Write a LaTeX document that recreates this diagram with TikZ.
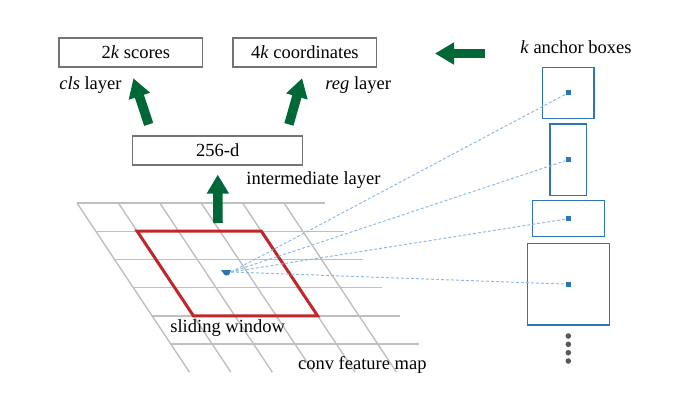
\documentclass[tikz,border=0pt]{standalone}
\usepackage{fontspec}
\setmainfont{Liberation Serif}
\newfontfamily\figfont{Liberation Serif}
\usetikzlibrary{arrows.meta}
\definecolor{arrowgreen}{RGB}{0,104,55}
\definecolor{winred}{RGB}{192,39,45}
\definecolor{boxblue}{RGB}{46,117,182}
\definecolor{dashblue}{RGB}{145,186,228}
\definecolor{gridgray}{RGB}{191,191,191}

\begin{document}
\begin{tikzpicture}[x=0.5pt,y=0.5pt,font=\figfont\fontsize{9.25}{11}\selectfont]
    \tikzstyle{rec} = [rectangle,draw=black!55,line width=0.6pt,inner sep=0pt,minimum height=14.5pt]
    \tikzstyle{lbl} = [inner sep=0pt,anchor=base west]
    \tikzstyle{fat} = [draw=arrowgreen,line width=4.75pt,-{Triangle[length=9.5pt,width=10.5pt]}]
    \tikzstyle{anc} = [rectangle,draw=boxblue,line width=0.75pt,inner sep=0pt]
    \tikzstyle{ctr} = [rectangle,fill=boxblue,inner sep=0pt,minimum size=2.5pt]
    \tikzstyle{lnk} = [dash pattern=on 1.5pt off 1pt,draw=dashblue,line width=0.5pt]
    \useasboundingbox (0,0) rectangle (678,418);
    % feature map grid
    \foreach \j in {0,...,5}
        \draw[gridgray,line width=0.7pt] (77+18.75*\j,215-28.2*\j) -- ++(248.4,0);
    \foreach \i in {0,...,5}
        \draw[gridgray,line width=0.7pt] (77+41.4*\i,215) -- ++(112.5,-169.2);
    \draw[winred,line width=1.5pt] (137.15,186.8) -- (261.35,186.8) -- (317.6,102.2) -- (193.4,102.2) -- cycle;
    \node [lbl] (sw) at (170,85.3) {sliding window};
    \node [lbl] (fm) at (297.7,48.7) {conv feature map};
    % layers
    \node [rec, minimum width=71.85pt] (cls) at (130.85,365.5) {\hspace{5pt}2\textit{k} scores};
    \node [rec, minimum width=71.85pt] (reg) at (304.85,365.5) {4\textit{k} coordinates};
    \node [rec, minimum width=85pt] (mid) at (217.7,267.5) {256-d};
    \node [lbl] (clsl) at (59,328) {\textit{cls} layer};
    \node [lbl] (regl) at (325,328) {\textit{reg} layer};
    \node [lbl] (midl) at (246,234) {intermediate layer};
    \coordinate (up) at (218,195);
    \draw [fat, shorten >=4.5pt] (up) -- (mid.south);
    \draw [fat] ([xshift=8.3pt,yshift=5.5pt]mid.north west) -- ([xshift=37.5pt,yshift=-5.3pt]cls.south west);
    \draw [fat] ([xshift=-7.2pt,yshift=5.5pt]mid.north east) -- ([xshift=34.85pt,yshift=-5.3pt]reg.south west);
    % anchors
    \node [lbl] (kl) at (520,364) {\textit{k} anchor boxes};
    \coordinate (ltail) at (485,364.5);
    \coordinate (lhead) at (435,364.5);
    \draw [fat] (ltail) -- (lhead);
    \node [anc, minimum width=25.65pt, minimum height=25.5pt] (b1) at (568.3,325.2) {};
    \node [anc, minimum width=18.35pt, minimum height=35.85pt] (b2) at (568.3,258.15) {};
    \node [anc, minimum width=36pt, minimum height=18pt] (b3) at (568.3,199.3) {};
    \node [anc, minimum width=41pt, minimum height=40.85pt] (b4) at (568.3,133.85) {};
    \coordinate (c) at (231,146);
    \foreach \n in {1,...,4} {
        \node [ctr] (d\n) at (b\n) {};
        \draw [lnk] (c) -- (d\n);
    }
    \fill [boxblue] (221,148) -- (231,148) -- (229,143) -- (225,142.5) -- cycle;
    \foreach \y in {82,73.7,65.3,57}
        \fill [black!65] (568.3,\y) circle (1.4pt);
\end{tikzpicture}
\end{document}
